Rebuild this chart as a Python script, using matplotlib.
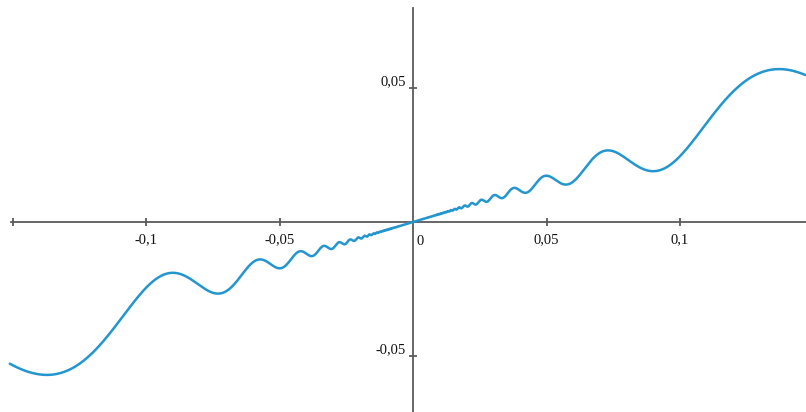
"""Graph of y = a*x + b*x^2*sin(1/x) drawn on centred axes"""

import numpy as np
import matplotlib
matplotlib.use('Agg')
from matplotlib import pyplot as plt

# curve parameters (slope near 0, wiggle amplitude)
slope = 0.3
amplitude = 1.0
x_range = [-0.151, 0.147]

tick_x = [-0.15, -0.1, -0.05, 0.05, 0.1]
tick_x_labels = ['', '-0,1', '-0,05', '0,05', '0,1']
tick_y = [-0.05, 0.05]
tick_y_labels = ['-0,05', '0,05']

AXIS_COLOR = '#5a5a5a'
LINE_COLOR = '#2396cf'

x = np.linspace(x_range[0], x_range[1], 400001)
x = x[x != 0]
y = slope * x + amplitude * x ** 2 * np.sin(1 / x)

plt.rcParams['font.family'] = ['Liberation Serif', 'DejaVu Serif']
fig = plt.figure(figsize=(8.06, 4.12), dpi=100)
ax = fig.add_axes([0, 0, 1, 1])

ax.plot(x, y, color=LINE_COLOR, lw=1.8, solid_capstyle='round', zorder=3)

ax.set_xlim(-413 / 2670, 393 / 2670)
ax.set_ylim(-190 / 2680, 222 / 2680)

for side in ['top', 'right']:
    ax.spines[side].set_visible(False)
for side in ['left', 'bottom']:
    ax.spines[side].set_position(('data', 0))
    ax.spines[side].set_color(AXIS_COLOR)
    ax.spines[side].set_linewidth(1.3)
ax.spines['bottom'].set_bounds(-0.1505, 393 / 2670)
ax.spines['left'].set_bounds(-190 / 2680, 214 / 2680)

ax.set_xticks(tick_x)
ax.set_xticklabels(tick_x_labels)
ax.set_yticks(tick_y)
ax.set_yticklabels(tick_y_labels)
ax.tick_params(direction='inout', length=6, width=1.3, color=AXIS_COLOR,
               labelsize=10.5, labelcolor='#111111')
ax.tick_params(axis='x', pad=5)
ax.tick_params(axis='y', pad=2)
for lab in ax.get_yticklabels():
    lab.set_verticalalignment('bottom')

ax.text(0.0012, -0.0047, '0', fontsize=10.5, color='#111111', ha='left', va='top')

fig.savefig('out.png', dpi=100)
